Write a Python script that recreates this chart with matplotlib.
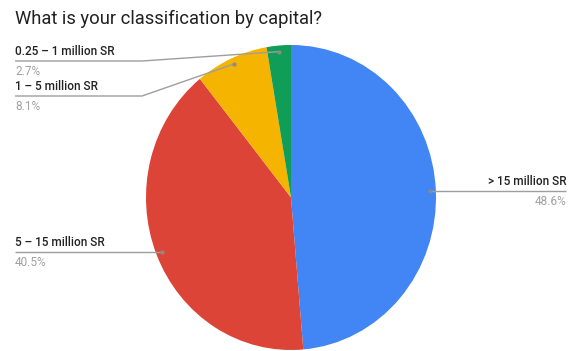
import matplotlib.pyplot as plt
import numpy as np

labels = ['> 15 million SR', '5 – 15 million SR', '1 – 5 million SR', '0.25 – 1 million SR']
shares = [48.6, 40.5, 8.1, 2.7]
colors = ['#4285F4', '#DB4437', '#F4B400', '#0F9D58']

plt.rcParams['font.family'] = ['Roboto', 'DejaVu Sans']

W, H = 571, 351
fig = plt.figure(figsize=(W / 100, H / 100), dpi=100)

# pie box, in pixels from the top-left corner
cx, cy, rx, ry = 291, 197.5, 145, 152.5
ax = fig.add_axes([(cx - rx) / W, 1 - (cy + ry) / H, 2 * rx / W, 2 * ry / H])
wedges, _ = ax.pie(shares, colors=colors, startangle=90, counterclock=False,
                   wedgeprops=dict(linewidth=0))
ax.set_aspect('auto')
ax.set_xlim(-1, 1)
ax.set_ylim(-1, 1)
ax.axis('off')

# overlay in pixel units for title, leader lines and labels
ov = fig.add_axes([0, 0, 1, 1], zorder=3)
ov.set_xlim(0, W)
ov.set_ylim(H, 0)
ov.axis('off')

ov.text(15, 18.5, 'What is your classification by capital?', fontsize=13.2,
        color='#212121', va='center', ha='left')

# (side, y of the horizontal run or None to stay level with the dot)
layout = [('right', None), ('left', None), ('left', 96), ('left', 61)]
line_c = '#9E9E9E'

for w, name, val, (side, ly) in zip(wedges, labels, shares, layout):
    mid = np.deg2rad((w.theta1 + w.theta2) / 2)
    dx = cx + 0.96 * rx * np.cos(mid)
    dy = cy - 0.96 * ry * np.sin(mid)
    if ly is None:
        ly = dy
    if side == 'right':
        xs, ys = [dx, 566], [dy, ly]
        tx, ha = 566, 'right'
    else:
        elbow = dx if ly == dy else 142
        xs, ys = [dx, elbow, 15], [dy, ly, ly]
        tx, ha = 15, 'left'
    ov.plot(xs, ys, color=line_c, lw=1.0, solid_capstyle='butt')
    ov.plot(dx, dy, 'o', color='#8a8a8a', ms=3, mew=0)
    ov.text(tx, ly - 3, name, fontsize=8.5, fontweight='medium', color='#222222',
            ha=ha, va='bottom')
    ov.text(tx, ly + 4, f'{val}%', fontsize=8.5, color='#A0A0A0', ha=ha, va='top')

fig.savefig('out.png', dpi=100)
